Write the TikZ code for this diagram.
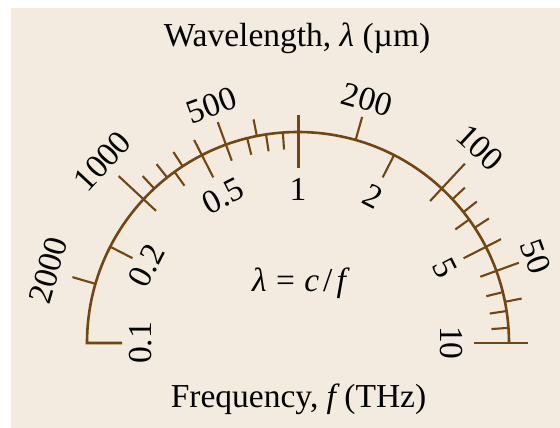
\documentclass[tikz,border=0pt]{standalone}
\usepackage{fontspec}
\setmainfont{Liberation Serif}
\definecolor{scalebrown}{RGB}{115,70,15}
\definecolor{paper}{RGB}{243,235,224}
\begin{document}
\begin{tikzpicture}[x=1pt,y=1pt,font=\fontsize{33.5}{40}\selectfont,
  scl/.style={draw=scalebrown, line width=2.6pt},
  tk/.style={draw=scalebrown, line width=2.1pt},
  lab/.style={inner sep=0pt, anchor=center}]
\useasboundingbox (0,0) rectangle (560,428);
\fill[paper] (11,0) rectangle (560,420);
\node[anchor=base] (title) at (297,381) {Wavelength, {\itshape λ} (µm)};
\node[anchor=base] (ftitle) at (298.5,20) {Frequency, {\itshape f} (THz)};
\node[anchor=base] (eq) at (299,136) {{\itshape λ}\hspace{0.28em}=\hspace{0.28em}{\itshape c}\hspace{0.12em}/\hspace{0.12em}{\itshape f}};
\begin{scope}[shift={(298,85)}]
  \draw[scl] (180:176) -- (180:211) arc[start angle=180, end angle=0, radius=211];
  \draw[scl] (0:176) -- (0:230);
  % frequency minor ticks (inward)
  \foreach \f in {0.3,0.4,0.6,0.7,0.8,0.9,3,4,6,7,8,9}
    \draw[tk] ({90-90*log10(\f)}:211) -- ({90-90*log10(\f)}:194);
  % frequency major ticks (inward)
  \foreach \f in {0.2,0.5,2,5}
    \draw[tk] ({90-90*log10(\f)}:211) -- ({90-90*log10(\f)}:186);
  % wavelength minor ticks (outward)
  \foreach \w in {900,800,700,600,400,90,80,70,60,40}
    \draw[tk] ({90-90*log10(300/\w)}:211) -- ({90-90*log10(300/\w)}:228);
  % wavelength major ticks (outward)
  \foreach \w in {2000,500,200,50}
    \draw[tk] ({90-90*log10(300/\w)}:211) -- ({90-90*log10(300/\w)}:235);
  \foreach \w in {1000,100}
    \draw[tk] ({90-90*log10(300/\w)}:211) -- ({90-90*log10(300/\w)}:245);
  % 1 THz
  \draw[tk, line width=3pt] (90:175) -- (90:228);
  % wavelength labels
  \foreach \w/\r/\n in {2000/260/a,1000/267/b,500/253/c,200/253/d,100/267/e,50/253/g}
    \node[lab, rotate={-90*log10(300/\w)}] (w\n) at ({90-90*log10(300/\w)}:\r) {\w};
  % frequency labels
  \foreach \f/\r/\n in {0.1/157/a,0.2/170/b,0.5/165/c,1/154/d,2/165/e,5/165/g,10/153/h}
    \node[lab, rotate={-90*log10(\f)}] (f\n) at ({90-90*log10(\f)}:\r) {\f};
\end{scope}
\end{tikzpicture}
\end{document}
